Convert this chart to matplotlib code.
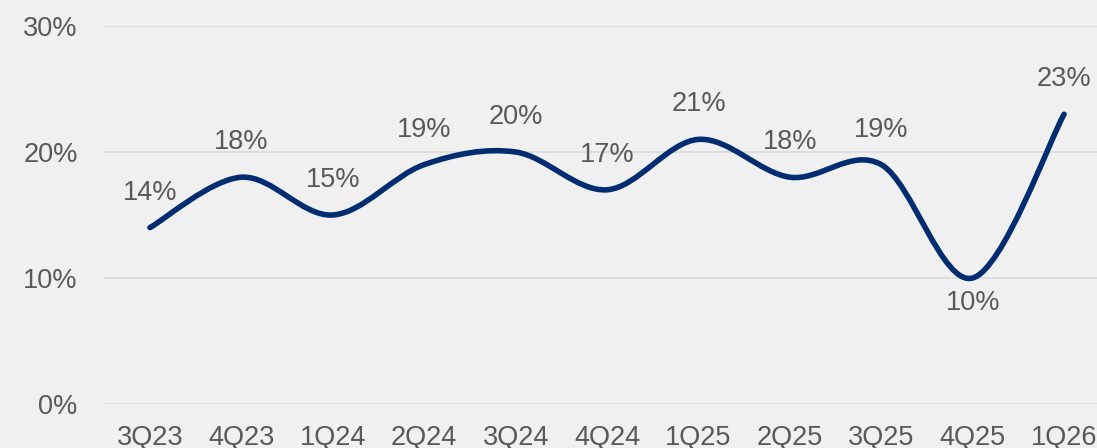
import numpy as np
import matplotlib.pyplot as plt
from matplotlib.path import Path
from matplotlib.patches import PathPatch

quarters = ['3Q23', '4Q23', '1Q24', '2Q24', '3Q24', '4Q24',
            '1Q25', '2Q25', '3Q25', '4Q25', '1Q26']
values = [0.14, 0.18, 0.15, 0.19, 0.20, 0.17, 0.21, 0.18, 0.19, 0.10, 0.23]
label_below = ['4Q25']

plt.rcParams['font.family'] = ['Liberation Sans', 'DejaVu Sans']

bg = '#f0f0f0'
navy = '#002d72'
grey = '#595959'

fig = plt.figure(figsize=(10.97, 4.48), dpi=100, facecolor=bg)
ax = fig.add_axes([104 / 1097, 44 / 448, 1 - 104 / 1097, 378 / 448])
ax.set_facecolor(bg)

x = np.arange(len(values), dtype=float)
y = np.array(values)

# smoothed line like excel: catmull-rom as bezier segments
verts = [(x[0], y[0])]
codes = [Path.MOVETO]
n = len(x)
for i in range(n - 1):
    p0 = np.array([x[max(i - 1, 0)], y[max(i - 1, 0)]])
    p1 = np.array([x[i], y[i]])
    p2 = np.array([x[i + 1], y[i + 1]])
    p3 = np.array([x[min(i + 2, n - 1)], y[min(i + 2, n - 1)]])
    c1 = p1 + (p2 - p0) / 6
    c2 = p2 - (p3 - p1) / 6
    verts += [tuple(c1), tuple(c2), tuple(p2)]
    codes += [Path.CURVE4] * 3
patch = PathPatch(Path(verts, codes), facecolor='none', edgecolor=navy,
                  lw=4.0, capstyle='round', joinstyle='round', zorder=3)
ax.add_patch(patch)

for xi, yi, q in zip(x, y, quarters):
    if q in label_below:
        off = -25
    else:
        off = 35
    ax.annotate('{:.0f}%'.format(yi * 100), (xi, yi), xytext=(0, off),
                textcoords='offset pixels', ha='center', va='center',
                fontsize=19.5, color=grey, zorder=4)

ax.set_xlim(-0.503, 10.36)
ax.set_ylim(0, 0.30)
ax.set_xticks(x)
ax.set_xticklabels(quarters)
ax.set_yticks([0, 0.1, 0.2, 0.3])
ax.set_yticklabels(['0%', '10%', '20%', '30%'])
ax.tick_params(axis='both', length=0, labelsize=19.5, colors=grey)
ax.tick_params(axis='x', pad=15)
ax.tick_params(axis='y', pad=19)
ax.grid(axis='y', color='#d9d9d9', lw=1.2)
ax.set_axisbelow(True)
for s in ax.spines.values():
    s.set_visible(False)

fig.savefig('out.png', dpi=100, facecolor=bg)
